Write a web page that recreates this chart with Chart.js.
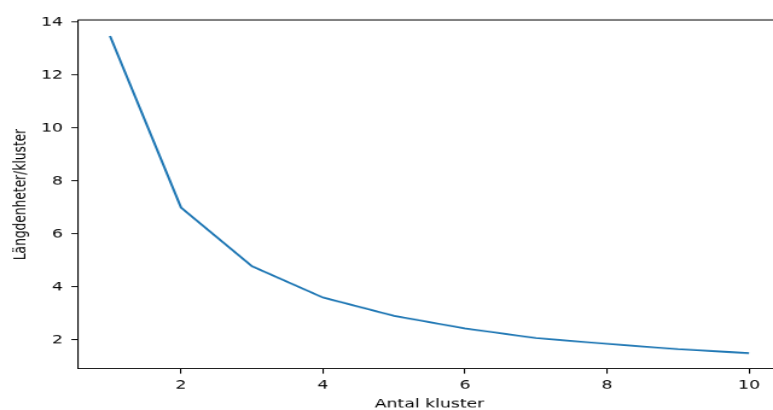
<!DOCTYPE html>
<html>
<head>
<meta charset="utf-8">
<script src="https://cdn.jsdelivr.net/npm/chart.js@4/dist/chart.umd.min.js"></script>
<style>
  html, body { margin: 0; padding: 0; background: #fff; overflow: hidden; width: 773px; height: 410px; }
  #wrap { position: absolute; left: 0; top: 0; width: 660px; height: 480px;
          transform: scale(1.2078125, 0.8541667); transform-origin: 0 0; }
  #c { display: block; }
</style>
</head>
<body>
<div id="wrap"><canvas id="c" width="660" height="480" style="width:660px;height:480px"></canvas></div>
<script>
// ---- data ----
const clusters = [1, 2, 3, 4, 5, 6, 7, 8, 9, 10];
const lengthPerCluster = [13.48, 7.0, 4.78, 3.6, 2.91, 2.43, 2.07, 1.85, 1.65, 1.5];
const xTickValues = [2, 4, 6, 8, 10];
const yTickValues = [2, 4, 6, 8, 10, 12, 14];
const xLabel = 'Antal kluster';
const yLabel = 'Längdenheter/kluster';

const FONT = 'DejaVu Sans';
const INK = '#000';

const spines = {
  id: 'spines',
  afterDraw(chart) {
    const { ctx, chartArea: a } = chart;
    ctx.save();
    ctx.strokeStyle = INK;
    ctx.lineWidth = 1.1;
    ctx.beginPath();
    ctx.moveTo(a.left, a.top);
    ctx.lineTo(a.right, a.top);
    ctx.lineTo(a.right, a.bottom);
    ctx.stroke();
    ctx.restore();
  }
};

new Chart(document.getElementById('c'), {
  type: 'line',
  data: {
    datasets: [{
      data: clusters.map((x, i) => ({ x: x, y: lengthPerCluster[i] })),
      borderColor: '#1f77b4',
      borderWidth: 2.08,
      pointRadius: 0,
      tension: 0,
      fill: false
    }]
  },
  options: {
    responsive: false,
    devicePixelRatio: 1,
    animation: false,
    layout: { padding: { left: 0, top: 23.4, right: 13.4, bottom: 0 } },
    plugins: { legend: { display: false }, tooltip: { enabled: false } },
    scales: {
      x: {
        type: 'linear',
        min: 0.55,
        max: 10.45,
        afterBuildTicks: s => { s.ticks = xTickValues.map(v => ({ value: v })); },
        afterFit: s => { s.height = 48; },
        grid: { display: true, drawOnChartArea: false, drawTicks: true, tickLength: 5.5, color: INK, lineWidth: 1.1 },
        border: { display: true, color: INK, width: 1.1 },
        ticks: { color: INK, font: { family: FONT, size: 14.3 }, padding: 5, maxRotation: 0, autoSkip: false },
        title: { display: true, text: xLabel, color: INK, font: { family: FONT, size: 14.3, lineHeight: 1 }, padding: { top: 0, bottom: 0 } }
      },
      y: {
        type: 'linear',
        min: 0.9,
        max: 14.08,
        afterBuildTicks: s => { s.ticks = yTickValues.map(v => ({ value: v })); },
        afterFit: s => { s.width = 64.6; },
        grid: { display: true, drawOnChartArea: false, drawTicks: true, tickLength: 5.5, color: INK, lineWidth: 1.1 },
        border: { display: true, color: INK, width: 1.1 },
        ticks: { color: INK, font: { family: FONT, size: 14.3 }, padding: 7 },
        title: { display: true, text: yLabel, color: INK, font: { family: FONT, size: 14.3, lineHeight: 1 }, padding: { top: 10, bottom: 0 } }
      }
    }
  },
  plugins: [spines]
});
</script>
</body>
</html>
